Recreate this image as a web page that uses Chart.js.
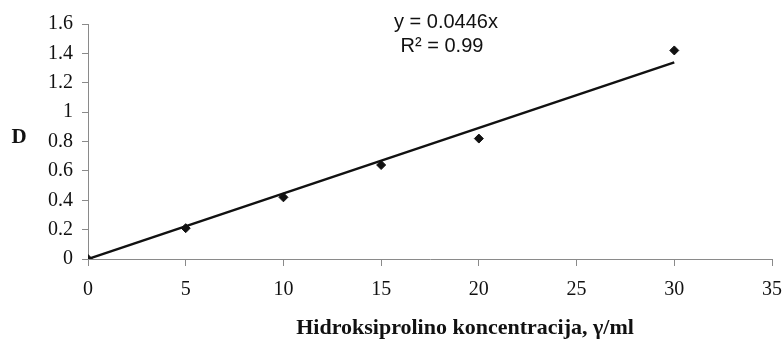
<!DOCTYPE html>
<html>
<head>
<meta charset="utf-8">
<script src="https://cdn.jsdelivr.net/npm/chart.js@4/dist/chart.umd.min.js"></script>
<style>
  html, body { margin:0; padding:0; background:#fff; }
  #wrap { width:784px; height:342px; position:relative; }
</style>
</head>
<body>
<div id="wrap"><canvas id="c"></canvas></div>
<script>
// ── Data ──────────────────────────────────────────────────────────────────────
const concX   = [0, 5, 10, 15, 20, 30];
const valD    = [0, 0.21, 0.42, 0.64, 0.82, 1.42];
const trendX  = [0, 30];
const trendY  = [0, 1.338];
const xTicks  = [0, 5, 10, 15, 20, 25, 30, 35];
const yTicks  = [0, 0.2, 0.4, 0.6, 0.8, 1, 1.2, 1.4, 1.6];
const eqLines = ["y = 0.0446x", "R² = 0.99"];
const xTitle  = "Hidroksiprolino koncentracija, γ/ml";
const yTitle  = "D";

const AXIS  = "#8a8a8a";
const SERIF = "'Liberation Serif','Times New Roman',serif";

// equation + axis titles, placed as in the original figure
const labels = {
  id: "labels",
  afterDraw(chart) {
    const ctx = chart.ctx;
    ctx.save();
    ctx.fillStyle = "#111";
    ctx.textAlign = "center"; ctx.textBaseline = "middle";
    ctx.font = "20px 'Liberation Sans',Arial,sans-serif";
    ctx.fillText(eqLines[0], 446, 22);
    ctx.fillText(eqLines[1], 442, 46);
    ctx.font = "bold 22px " + SERIF;
    ctx.fillText(xTitle, 465, 328);
    ctx.font = "bold 21px " + SERIF;
    ctx.fillText(yTitle, 19, 138);
    ctx.restore();
  }
};

new Chart(document.getElementById("c").getContext("2d"), {
  type: "scatter",
  data: {
    datasets: [
      { label:"D", data: concX.map((x,i) => ({x, y:valD[i]})),
        pointStyle:"rectRot", pointRadius:4.5, pointBackgroundColor:"#111", pointBorderColor:"#111", showLine:false },
      { label:"Trend", data: trendX.map((x,i) => ({x, y:trendY[i]})),
        showLine:true, borderColor:"#111", borderWidth:2.4, pointRadius:0 }
    ]
  },
  options: {
    responsive:true, maintainAspectRatio:false, animation:false,
    layout: { padding:{ left:30, right:12, top:24, bottom:0 } },
    plugins: { legend:{display:false}, tooltip:{enabled:false} },
    scales: {
      x: {
        type:"linear", min:0, max:35,
        afterBuildTicks: s => { s.ticks = xTicks.map(v => ({value:v})); },
        grid: { drawOnChartArea:false, color:AXIS, tickLength:7 },
        border: { color:AXIS, width:1 },
        ticks: { color:"#111", font:{family:SERIF, size:20}, padding:12, maxRotation:0 },
        afterFit: s => { s.height = 83; s.paddingLeft = 0; s.paddingRight = 0; }
      },
      y: {
        min:0, max:1.6,
        afterBuildTicks: s => { s.ticks = yTicks.map(v => ({value:v})); },
        grid: { drawOnChartArea:false, color:AXIS, tickLength:6 },
        border: { color:AXIS, width:1 },
        ticks: { color:"#111", font:{family:SERIF, size:20}, padding:9, callback: v => String(v) },
        afterFit: s => { s.width = 58; s.paddingTop = 0; s.paddingBottom = 0; }
      }
    }
  },
  plugins: [labels]
});
</script>
</body>
</html>
